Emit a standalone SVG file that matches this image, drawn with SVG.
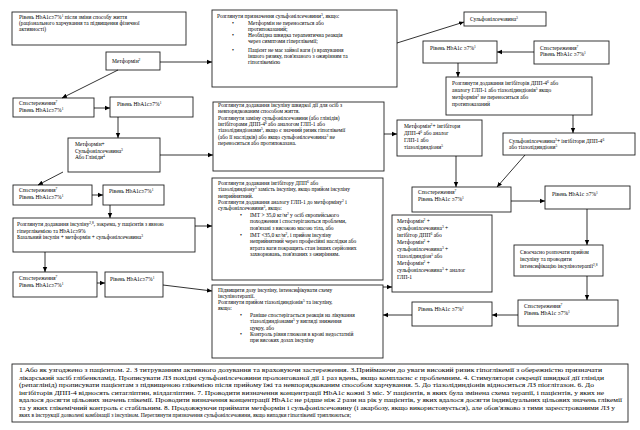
<svg xmlns="http://www.w3.org/2000/svg" width="640" height="430" viewBox="0 0 640 430">
<defs>
<marker id="ah" markerWidth="6" markerHeight="6" refX="5" refY="3" orient="auto" markerUnits="userSpaceOnUse">
<path d="M0,0.8 L5,3 L0,5.2 Z" fill="#000"/>
</marker>
</defs>
<style>
.b{fill:#fff;stroke:#222;stroke-width:0.9}
text{font-family:"Liberation Serif","Times New Roman",serif;font-size:5.5px;fill:#000}
.f{font-size:5.6px}
.s{font-size:3.6px;baseline-shift:super}
.c line{stroke:#000;stroke-width:0.8;marker-end:url(#ah)}
</style>
<rect width="640" height="430" fill="#fff"/>

<g id="n_lifestyle"><rect class="b" x="12" y="12" width="174" height="33"/>
<text x="19" y="19">Рівень HbA1c≥7%<tspan class="s">1</tspan> після зміни способу життя</text>
<text x="19" y="25">(раціонального харчування та підвищення фізичної</text>
<text x="19" y="31">активності)</text></g>

<g id="n_metformin"><rect class="b" x="106" y="52" width="54" height="18"/>
<text x="112" y="63">Метформін<tspan class="s">2</tspan></text></g>

<g id="n_sulf_consider"><rect class="b" x="212" y="10" width="185" height="77"/>
<text x="217" y="18">Розглянути призначення сульфонілсечовини<tspan class="s">3</tspan>, якщо:</text>
<text x="232" y="24.5">•</text><text x="248" y="24.5">Метформін не переноситься або</text>
<text x="248" y="30.5">протипоказаний;</text>
<text x="232" y="37">•</text><text x="248" y="37">Необхідна швидка терапевтична реакція</text>
<text x="248" y="43">через симптоми гіперглікемії;</text>
<text x="232" y="52">•</text><text x="248" y="52">Пацієнт не має зайвої ваги (з врахування</text>
<text x="248" y="58">іншого ризику, пов'язаного з ожирінням та</text>
<text x="248" y="64">гіпоглікемією</text></g>

<g id="n_sulf"><rect class="b" x="464" y="12" width="82" height="14"/>
<text x="470" y="21">Сульфонілсечовина<tspan class="s">3</tspan></text></g>

<g id="n_level_tr"><rect class="b" x="423" y="41" width="74" height="22"/>
<text x="430" y="50">Рівень HbA1c ≥7%<tspan class="s">1</tspan></text></g>

<g id="n_obs_tr"><rect class="b" x="534" y="41" width="75" height="23"/>
<text x="540" y="49.5">Спостереження<tspan class="s">7</tspan></text>
<text x="540" y="56">Рівень HbA1c ≥7%<tspan class="s">1</tspan></text></g>

<g id="n_dpp"><rect class="b" x="446" y="77" width="146" height="38"/>
<text x="452" y="84.5">Розглянути додавання інгібіторів ДПП-4<tspan class="s">6</tspan> або</text>
<text x="452" y="91.5">аналогу ГЛП-1 або тіазолідиндіонів<tspan class="s">5</tspan> якщо</text>
<text x="452" y="98.5">метформін<tspan class="s">2</tspan> не переноситься або</text>
<text x="452" y="105.5">протипоказаний</text></g>

<g id="n_met_inh"><rect class="b" x="397" y="120" width="85" height="36"/>
<text x="404" y="128">Метформін<tspan class="s">2</tspan>+ інгібітори</text>
<text x="404" y="135">ДПП-4<tspan class="s">6</tspan> або аналог</text>
<text x="404" y="142">ГЛП-1 або</text>
<text x="404" y="149">тіазолідиндіони<tspan class="s">5</tspan></text></g>

<g id="n_sulf_inh"><rect class="b" x="503" y="133" width="132" height="22"/>
<text x="509" y="142.5">Сульфонілсечовина<tspan class="s">3</tspan>+ інгібітори ДПП-4<tspan class="s">6</tspan></text>
<text x="509" y="149">або тіазолідиндіони<tspan class="s">5</tspan></text></g>

<g id="n_obs_r"><rect class="b" x="412" y="187" width="99" height="25"/>
<text x="418" y="194">Спостереження<tspan class="s">7</tspan></text>
<text x="418" y="200.5">Рівень HbA1c ≥7%<tspan class="s">1</tspan></text></g>

<g id="n_level_r"><rect class="b" x="545" y="186" width="85" height="23"/>
<text x="552" y="196">Рівень HbA1c ≥7%<tspan class="s">1</tspan></text></g>

<g id="n_timely"><rect class="b" x="514" y="245" width="89" height="31"/>
<text x="520" y="254">Своєчасно розпочати прийом</text>
<text x="520" y="261">інсуліну та проводити</text>
<text x="520" y="268">інтенсифікацію інсулінотерапії<tspan class="s">2,8</tspan></text></g>

<g id="n_triple"><rect class="b" x="392" y="215" width="100" height="77"/>
<text x="397" y="223">Метформін<tspan class="s">2</tspan> +</text>
<text x="397" y="230">сульфонілсечовина<tspan class="s">3</tspan> +</text>
<text x="397" y="237">інгібітор ДПП<tspan class="s">6</tspan> або</text>
<text x="397" y="244">Метформін<tspan class="s">2</tspan> +</text>
<text x="397" y="251">сульфонілсечовина<tspan class="s">3</tspan> +</text>
<text x="397" y="258">тіазолідиндіон<tspan class="s">5</tspan> або</text>
<text x="397" y="265">Метформін<tspan class="s">2</tspan> +</text>
<text x="397" y="272">сульфонілсечовина<tspan class="s">3</tspan> + аналог</text>
<text x="397" y="279">ГЛП-1</text></g>

<g id="n_obs_br"><rect class="b" x="518" y="300" width="100" height="26"/>
<text x="524" y="308">Спостереження<tspan class="s">7</tspan></text>
<text x="524" y="315">Рівень HbA1c ≥7%<tspan class="s">1</tspan></text></g>

<g id="n_level_bm"><rect class="b" x="412" y="302" width="80" height="24"/>
<text x="418" y="311">Рівень HbA1c ≥7%<tspan class="s">1</tspan></text></g>

<g id="n_obs_l1"><rect class="b" x="13" y="98" width="81" height="19"/>
<text x="19" y="105">Спостереження<tspan class="s">7</tspan></text>
<text x="19" y="112">Рівень HbA1c≥7%<tspan class="s">1</tspan></text></g>

<g id="n_level_l1"><rect class="b" x="110" y="97" width="83" height="20"/>
<text x="117" y="106">Рівень HbA1c≥7%<tspan class="s">1</tspan></text></g>

<g id="n_met_sulf"><rect class="b" x="68" y="138" width="92" height="34"/>
<text x="75" y="146">Метформін+</text>
<text x="75" y="152.5">Сульфонілсечовина<tspan class="s">3</tspan></text>
<text x="75" y="159">Або Глініди<tspan class="s">4</tspan></text></g>

<g id="n_fast_ins"><rect class="b" x="213" y="102" width="171" height="69"/>
<text x="218" y="107">Розглянути додавання інсуліну швидкої дії для осіб з</text>
<text x="218" y="113.3">невпорядкованим способом життя.</text>
<text x="218" y="119.6">Розглянути заміну сульфонілсечовини (або глінідів)</text>
<text x="218" y="125.9">інгібіторами ДПП-4<tspan class="s">6</tspan> або аналогом ГЛП-1 або</text>
<text x="218" y="132.2">тіазолідиндіонами<tspan class="s">5</tspan>, якщо є значний ризик гіпоглікемії</text>
<text x="218" y="138.5">(або її наслідків) або якщо сульфонілсечовина<tspan class="s">3</tspan> не</text>
<text x="218" y="144.8">переноситься або протипоказана.</text></g>

<g id="n_obs_l2"><rect class="b" x="13" y="185" width="79" height="20"/>
<text x="19" y="192">Спостереження<tspan class="s">7</tspan></text>
<text x="19" y="199">Рівень HbA1c≥7%<tspan class="s">1</tspan></text></g>

<g id="n_level_l2"><rect class="b" x="103" y="185" width="61" height="20"/>
<text x="109" y="193">Рівень HbA1c≥7%<tspan class="s">1</tspan></text></g>

<g id="n_add_ins"><rect class="b" x="13" y="218" width="182" height="34"/>
<text x="17" y="226">Розглянути додавання інсуліну<tspan class="s">2,8</tspan>, зокрема, у пацієнтів з явною</text>
<text x="17" y="232.5">гіперглікемією та HbA1c≥9%</text>
<text x="17" y="239">Базальний інсулін + метформін + сульфонілсечовина<tspan class="s">3</tspan></text></g>

<g id="n_dpp_glp"><rect class="b" x="212" y="178" width="171" height="102"/>
<text x="218" y="185">Розглянути додавання інгібітору ДПП<tspan class="s">6</tspan> або</text>
<text x="218" y="191.3">тіазолідиндіону<tspan class="s">5</tspan> замість інсуліну, якщо прийом інсуліну</text>
<text x="218" y="197.6">неприйнятний.</text>
<text x="218" y="203.9">Розглянути додавання аналогу ГЛП-1 до метформіну<tspan class="s">2</tspan> і</text>
<text x="218" y="210.2">сульфонілсечовини<tspan class="s">3</tspan>, якщо:</text>
<text x="240" y="217">•</text><text x="250" y="217">ІМТ &gt; 35,0 кг/м<tspan class="s">2</tspan> у осіб європейського</text>
<text x="250" y="223.3">походження і спостерігаються проблеми,</text>
<text x="250" y="229.6">пов'язані з високою масою тіла, або</text>
<text x="240" y="237">•</text><text x="250" y="237">ІМТ &lt;35,0 кг/м<tspan class="s">2</tspan>, і прийом інсуліну</text>
<text x="250" y="243.3">неприйнятний через професійні наслідки або</text>
<text x="250" y="249.6">втрата ваги покращить стан інших серйозних</text>
<text x="250" y="255.9">захворювань, пов'язаних з ожирінням.</text></g>

<g id="n_obs_l3"><rect class="b" x="13" y="272" width="84" height="25"/>
<text x="19" y="280">Спостереження<tspan class="s">7</tspan></text>
<text x="19" y="287">Рівень HbA1c≥7%<tspan class="s">1</tspan></text></g>

<g id="n_level_l3"><rect class="b" x="105" y="272" width="58" height="25"/>
<text x="110" y="281">Рівень HbA1c≥7%<tspan class="s">1</tspan></text></g>

<g id="n_intensify"><rect class="b" x="212" y="285" width="171" height="73"/>
<text x="218" y="291.5">Підвищити   дозу інсуліну, інтенсифікувати схему</text>
<text x="218" y="297.8">інсулінотерапії.</text>
<text x="218" y="304.1">Розглянути прийом тіазолідиндіонів<tspan class="s">5</tspan> та інсуліну,</text>
<text x="218" y="310.4">якщо:</text>
<text x="240" y="317">•</text><text x="250" y="317">Раніше спостерігається реакція на лікування</text>
<text x="250" y="323.3">тіазолідиндіонами<tspan class="s">5</tspan> у вигляді зниження</text>
<text x="250" y="329.6">цукру, або</text>
<text x="240" y="336">•</text><text x="250" y="336">Контроль рівня глюкози в крові недостатній</text>
<text x="250" y="342.3">при високих дозах інсуліну</text></g>

<g id="n_notes"><rect class="b" x="12" y="364" width="616" height="58"/>
<text class="f" x="19" y="372" textLength="583" lengthAdjust="spacingAndGlyphs">1 Або як узгоджено з пацієнтом. 2. З титруванням активного дозування та враховуючи застереження. 3.Приймаючи до уваги високий ризик гіпоглікемії з обережністю призначати</text>
<text class="f" x="19" y="379.5" textLength="585" lengthAdjust="spacingAndGlyphs">лікарський засіб глібенкламід. Прописувати ЛЗ похідні сульфонілсечовини пролонгованої дії 1 раз вдень, якщо комплаєнс є проблемним. 4. Стимулятори секреції швидкої дії глініди</text>
<text class="f" x="19" y="387" textLength="575" lengthAdjust="spacingAndGlyphs">(репаглінід) прописувати пацієнтам з підвищеною глікемією після прийому їжі та невпорядкованим способом харчування. 5. До тіазолідиндіонів відноситься ЛЗ піоглітазон. 6. До</text>
<text class="f" x="19" y="394.5" textLength="585" lengthAdjust="spacingAndGlyphs">інгібіторів ДПП-4 відносять ситагліптин, вілдагліптин. 7. Проводити визначення концентрації HbA1c кожні 3 міс. У пацієнтів, в яких була змінена схема терапії, і пацієнтів,  у яких не</text>
<text class="f" x="19" y="402" textLength="603" lengthAdjust="spacingAndGlyphs">вдалося досягти цільових значень глікемії. Проводити визначення концентрації HbA1c не рідше ніж 2 рази на рік у пацієнтів, у яких вдалося досягти індивідуальних цільових значень глікемії</text>
<text class="f" x="19" y="409.5" textLength="596" lengthAdjust="spacingAndGlyphs">та у яких глікемічний контроль є стабільним. 8. Продовжуючи приймати метформін і сульфонілсечовину (і акарбозу, якщо використовується), але обов'язково з тими зареєстрованими ЛЗ у</text>
<text class="f" x="19" y="417">яких в інструкції дозволені комбінації з інсуліном. Переглянути призначення сульфонілсечовини, якщо випадки гіпоглікемії триплюються;</text></g>

<g id="connectors" class="c">
<line x1="160" y1="62" x2="212" y2="62"/>
<line x1="397" y1="43" x2="464" y2="22"/>
<line x1="534" y1="52" x2="497" y2="52"/>
<line x1="458" y1="63" x2="458" y2="77"/>
<line x1="573" y1="115" x2="573" y2="133"/>
<line x1="118" y1="70" x2="62" y2="98"/>
<line x1="94" y1="108" x2="110" y2="108"/>
<line x1="118" y1="117" x2="118" y2="138"/>
<line x1="160" y1="155" x2="213" y2="155"/>
<line x1="384" y1="134" x2="397" y2="134"/>
<line x1="456" y1="156" x2="456" y2="187"/>
<line x1="525" y1="155" x2="497" y2="187"/>
<line x1="511" y1="201" x2="545" y2="201"/>
<line x1="587" y1="209" x2="587" y2="245"/>
<line x1="587" y1="276" x2="587" y2="300"/>
<line x1="518" y1="315" x2="492" y2="315"/>
<line x1="412" y1="315" x2="383" y2="315"/>
<line x1="383" y1="287" x2="392" y2="287"/>
<line x1="63" y1="172" x2="38" y2="185"/>
<line x1="92" y1="195" x2="103" y2="195"/>
<line x1="110" y1="205" x2="110" y2="218"/>
<line x1="195" y1="226" x2="212" y2="226"/>
<line x1="45" y1="252" x2="45" y2="272"/>
<line x1="97" y1="283" x2="105" y2="283"/>
<line x1="163" y1="285" x2="212" y2="291"/>
</g>
</svg>
